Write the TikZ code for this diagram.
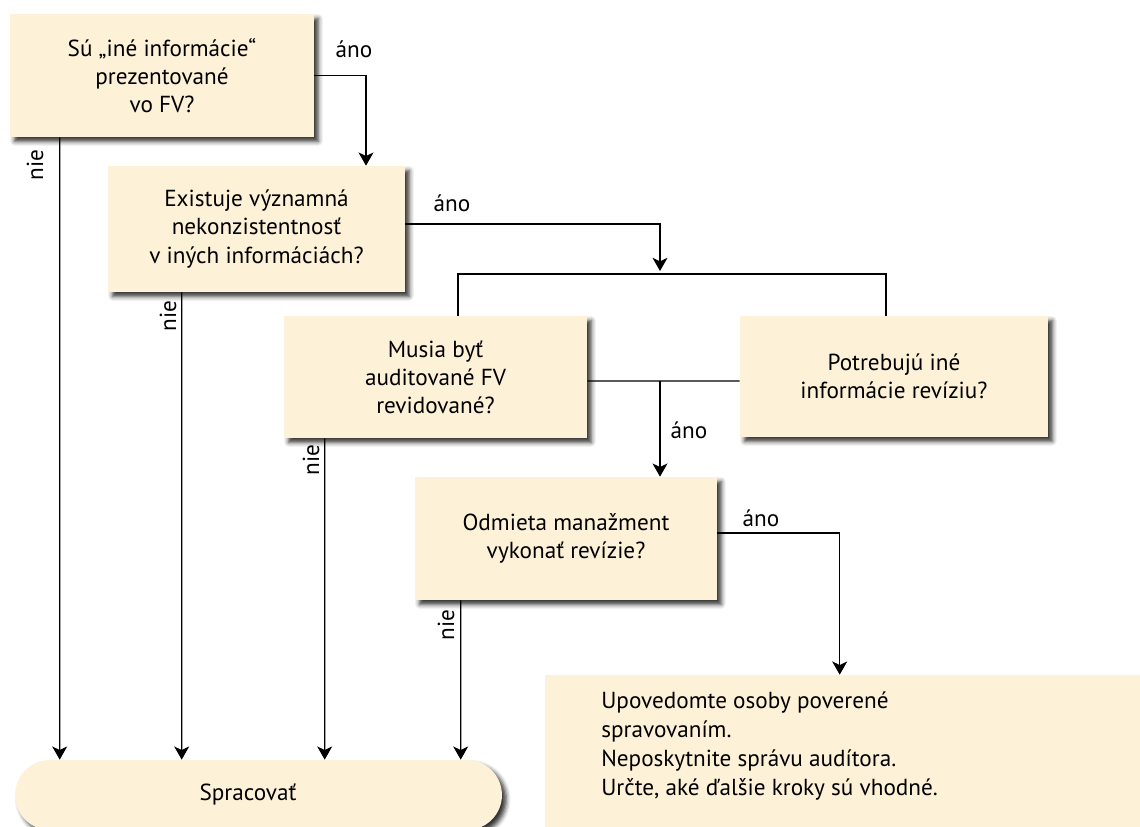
\documentclass[tikz,border=0pt]{standalone}
\usepackage{fontspec}
\setmainfont{PT Sans}
\usetikzlibrary{arrows.meta,calc,shadows.blur}
\definecolor{cream}{RGB}{253,241,216}
\begin{document}
\begin{tikzpicture}[x=0.02cm,y=-0.02cm,
  font=\fontsize{13.2pt}{16pt}\selectfont,
  qbox/.style={rectangle, fill=cream, align=center, inner sep=0pt,
    blur shadow={shadow xshift=2.5pt, shadow yshift=-2.5pt,
      shadow blur radius=2.5pt, shadow opacity=80}},
  pill/.style={qbox, rounded corners=0.7cm},
  conn/.style={line width=0.75pt, black},
  arr/.style={conn, -{Stealth[length=7.5pt, width=8.5pt, inset=2pt]}},
  lbl/.style={inner sep=1pt},
  vlbl/.style={inner sep=1pt, rotate=90}]
\useasboundingbox (0,0) rectangle (1140,826);

% question boxes
\node[qbox, minimum width=6.08cm, minimum height=2.46cm] (box1) at (162,75.5)
  {Sú „iné informácie“\\ prezentované\\ vo FV?};
\node[qbox, minimum width=5.94cm, minimum height=2.52cm] (box2) at (256.5,229)
  {Existuje významná\\ nekonzistentnosť\\ v iných informáciách?};
\node[qbox, minimum width=6.06cm, minimum height=2.44cm] (box3) at (435.5,377)
  {Musia byť\\ auditované FV\\ revidované?};
\node[qbox, minimum width=6.16cm, minimum height=2.42cm] (box4) at (894,376.5)
  {Potrebujú iné\\ informácie revíziu?};
\node[qbox, minimum width=6.04cm, minimum height=2.46cm] (box5) at (566,538.5)
  {Odmieta manažment\\ vykonať revízie?};

% outcome boxes
\node[qbox, minimum width=12.3cm, minimum height=3.5cm] (box6) at (852.5,762.5) {};
\node[anchor=north west, align=left, inner sep=0pt] (box6txt) at (601,691)
  {Upovedomte osoby poverené\\[0.6pt] spravovaním.\\[0.6pt]
   Neposkytnite správu audítora.\\[0.6pt] Určte, aké ďalšie kroky sú vhodné.};
\node[pill, minimum width=9.74cm, minimum height=1.4cm] (pill) at (258.5,795) {};
\node (pilltxt) at (248,795) {Spracovať};

% yes branches
\draw[arr] (box1.east) -| ($(box2.north)+(109.5,0)$);
\node[lbl] (yes1) at (354,49) {áno};

\coordinate (join) at (660,274);
\draw[arr] ($(box2.east)+(0,-5)$) -| ($(join)+(0,-3)$);
\node[lbl] (yes2) at (452,203) {áno};
\draw[conn] ($(box3.north)+(22.5,0)$) |- (join) -| ($(box4.north)+(-8,0)$);

\coordinate (mid) at (660,381);
\draw[conn] ($(box3.east)+(0,4)$) -- ($(box4.west)+(0,4.5)$);
\draw[arr] (mid) -- (mid |- box5.north);
\node[lbl] (yes3) at (689,430) {áno};

\draw[arr] ($(box5.east)+(0,-5.5)$) -| ($(box6.north west)+(295,0)$);
\node[lbl] (yes4) at (761,518) {áno};

% no branches
\draw[arr] ($(box1.south west)+(50,0)$) -- ($(pill.north west)+(45,0)$);
\node[vlbl] (no1) at (35,165) {nie};
\draw[arr] ($(box2.south west)+(74,0)$) -- ($(pill.north west)+(167,0)$);
\node[vlbl] (no2) at (168,316) {nie};
\draw[arr] ($(box3.south west)+(41,0)$) -- ($(pill.north west)+(310,0)$);
\node[vlbl] (no3) at (311,460) {nie};
\draw[arr] ($(box5.south west)+(46,0)$) -- ($(pill.north west)+(446,0)$);
\node[vlbl] (no4) at (446,625) {nie};
\end{tikzpicture}
\end{document}
